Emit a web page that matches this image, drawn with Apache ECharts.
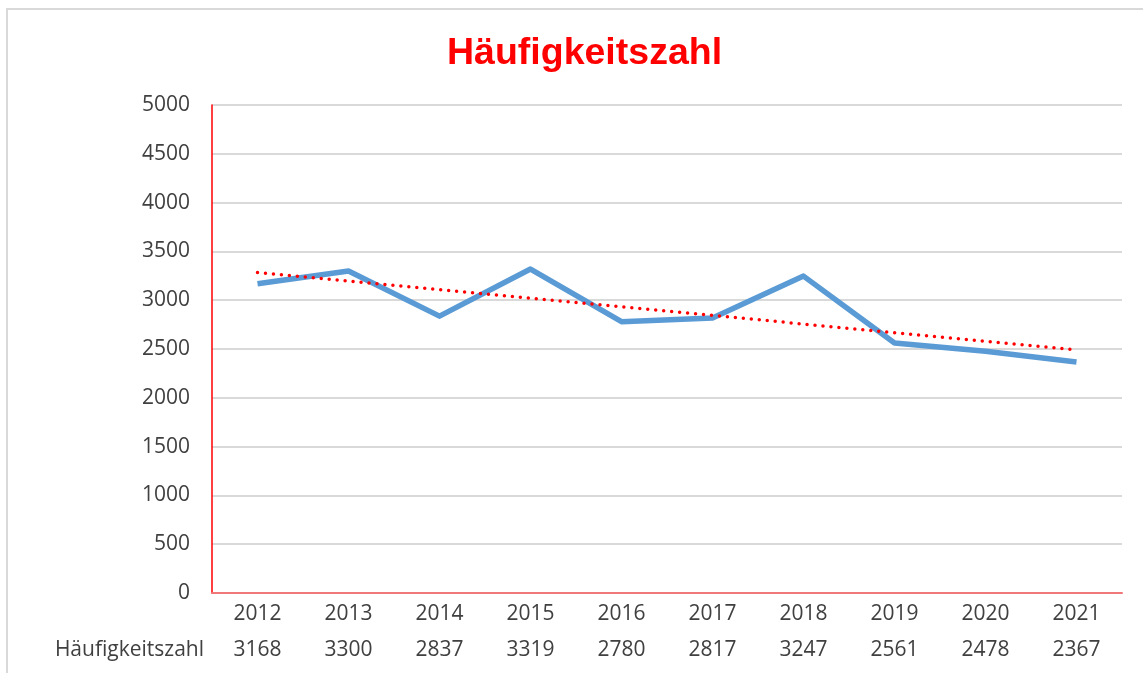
<!DOCTYPE html>
<html>
<head>
<meta charset="utf-8">
<script src="https://cdn.jsdelivr.net/npm/echarts@6/dist/echarts.min.js"></script>
<style>
  html, body { margin: 0; padding: 0; background: #fff; }
  #chart { width: 1143px; height: 673px; }
</style>
</head>
<body>
<div id="chart"></div>
<script>
  // Daten
  var years = ['2012', '2013', '2014', '2015', '2016', '2017', '2018', '2019', '2020', '2021'];
  var haeufigkeit = [3168, 3300, 2837, 3319, 2780, 2817, 3247, 2561, 2478, 2367];
  // Trendlinie (Start- und Endwert)
  var trendStart = 3285;
  var trendEnd = 2491;

  var trendData = years.map(function (y, i) {
    if (i === 0) return trendStart;
    if (i === years.length - 1) return trendEnd;
    return null;
  });

  var textColor = '#404040';
  var font = '"Open Sans", "Noto Sans", sans-serif';

  var myChart = echarts.init(document.getElementById('chart'));
  myChart.setOption({
    animation: false,
    title: {
      text: 'Häufigkeitszahl',
      left: 442,
      top: 30,
      textStyle: {
        color: '#ff0000',
        fontSize: 37.5,
        fontWeight: 'bold',
        fontFamily: '"Liberation Sans", Arial, sans-serif'
      }
    },
    graphic: [{
      type: 'rect',
      shape: { x: 7, y: 9, width: 1300, height: 800 },
      style: { fill: 'none', stroke: '#d9d9d9', lineWidth: 2 },
      silent: true
    }],
    grid: {
      left: 212,
      right: 21,
      top: 105,
      bottom: 80
    },
    xAxis: [{
      type: 'category',
      data: years,
      boundaryGap: true,
      axisLine: { lineStyle: { color: '#f07878', width: 2 } },
      axisTick: { show: false },
      axisLabel: {
        color: textColor,
        fontSize: 21,
        fontFamily: font,
        margin: 11
      }
    }, {
      type: 'category',
      position: 'bottom',
      offset: 36,
      data: haeufigkeit.map(String),
      name: 'Häufigkeitszahl',
      nameLocation: 'start',
      nameGap: 8,
      nameTextStyle: {
        color: textColor,
        fontSize: 21,
        fontFamily: font,
        verticalAlign: 'top',
        padding: [11, 0, 0, 0]
      },
      axisLine: { show: false },
      axisTick: { show: false },
      axisLabel: {
        color: textColor,
        fontSize: 21,
        fontFamily: font,
        margin: 11
      }
    }],
    yAxis: {
      type: 'value',
      min: 0,
      max: 5000,
      interval: 500,
      axisLine: { show: true, lineStyle: { color: '#ff0000', width: 1.5 } },
      axisTick: { show: false },
      axisLabel: {
        color: textColor,
        fontSize: 21,
        fontFamily: font,
        margin: 22,
        formatter: function (v) { return String(v); }
      },
      splitLine: { lineStyle: { color: '#d9d9d9', width: 2 } }
    },
    series: [{
      name: 'Häufigkeitszahl',
      type: 'line',
      data: haeufigkeit,
      showSymbol: false,
      symbol: 'none',
      lineStyle: { color: '#5b9bd5', width: 5.5, join: 'round' },
      z: 2
    }, {
      name: 'Trend',
      type: 'line',
      data: trendData,
      connectNulls: true,
      showSymbol: false,
      symbol: 'none',
      lineStyle: {
        color: '#ff0000',
        width: 3.5,
        type: [0, 8],
        cap: 'round'
      },
      z: 3
    }]
  });
</script>
</body>
</html>
